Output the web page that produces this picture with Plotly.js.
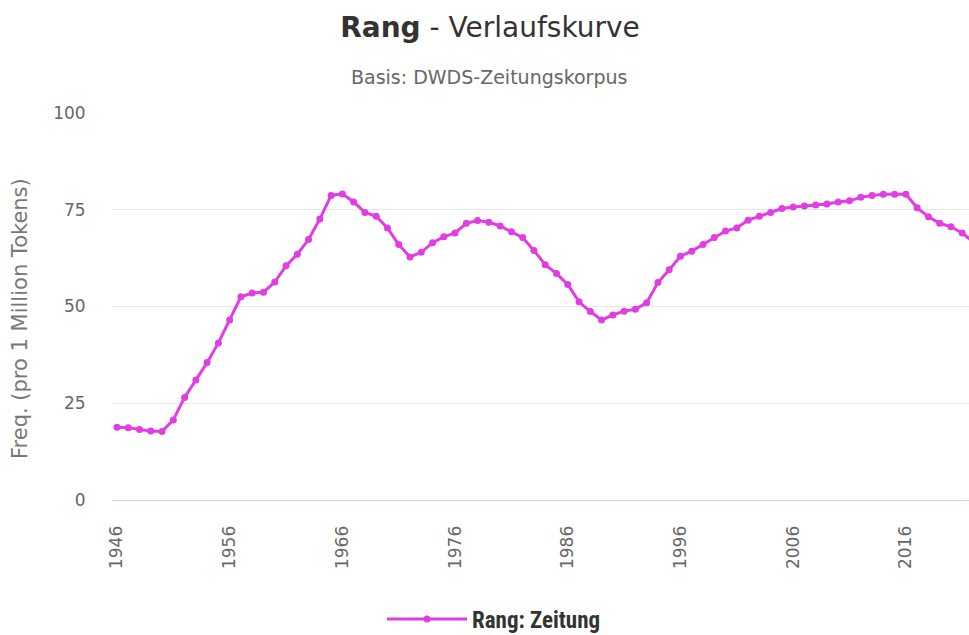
<!DOCTYPE html>
<html>
<head>
<meta charset="utf-8">
<script src="https://cdn.plot.ly/plotly-3.0.1.min.js"></script>
<style>html,body{margin:0;padding:0;background:#fff;}#chart{width:969px;height:635px;}</style>
</head>
<body>
<div id="chart"></div>
<script>
const years = [];
for (let y = 1946; y <= 2022; y++) years.push(y);

const freqZeitung = [
  18.8, 18.7, 18.2, 17.8, 17.7, 20.7, 26.5, 31.0, 35.5, 40.6,
  46.5, 52.5, 53.5, 53.7, 56.3, 60.5, 63.5, 67.3, 72.6, 78.7,
  79.1, 77.0, 74.3, 73.3, 70.3, 66.0, 62.8, 64.0, 66.5, 68.0,
  69.0, 71.5, 72.2, 71.8, 70.8, 69.3, 67.8, 64.5, 60.8, 58.5,
  55.7, 51.2, 48.7, 46.5, 47.8, 48.8, 49.3, 51.0, 56.2, 59.5,
  63.0, 64.3, 66.0, 67.8, 69.5, 70.3, 72.3, 73.3, 74.3, 75.3,
  75.7, 76.0, 76.2, 76.5, 77.0, 77.3, 78.2, 78.7, 79.0, 79.0,
  79.0, 75.5, 73.2, 71.5, 70.6, 69.0, 66.6
];

const xTicks = [1946, 1956, 1966, 1976, 1986, 1996, 2006, 2016];
const yTicks = [0, 25, 50, 75, 100];
const seriesName = 'Rang: Zeitung';
const titleText = '<b>Rang</b> - Verlaufskurve';
const subtitleText = 'Basis: DWDS-Zeitungskorpus';
const yTitleText = 'Freq. (pro 1 Million Tokens)';

const trace = {
  x: years,
  y: freqZeitung,
  type: 'scatter',
  mode: 'lines+markers',
  name: seriesName,
  line: {color: '#e23de2', width: 3},
  marker: {color: '#e23de2', size: 7}
};

const layout = {
  width: 969,
  height: 635,
  margin: {l: 112, r: 0, t: 113, b: 135, autoexpand: false},
  paper_bgcolor: '#fff',
  plot_bgcolor: '#fff',
  font: {family: 'DejaVu Sans, sans-serif', color: '#666'},
  showlegend: true,
  title: {
    text: titleText,
    font: {family: 'DejaVu Sans, sans-serif', size: 28, color: '#333'},
    x: 490 / 969, xref: 'container', xanchor: 'center',
    y: 1 - 27 / 635, yref: 'container', yanchor: 'middle'
  },
  annotations: [
    {
      text: subtitleText, showarrow: false,
      xref: 'paper', yref: 'paper',
      x: (489 - 112) / 857, y: (500 - 77) / 387,
      xanchor: 'center', yanchor: 'middle',
      font: {family: 'DejaVu Sans, sans-serif', size: 19, color: '#666'}
    },
    {
      text: yTitleText, showarrow: false, textangle: -90,
      xref: 'paper', yref: 'paper',
      x: (20 - 112) / 857, y: (500 - 319) / 387,
      xanchor: 'center', yanchor: 'middle',
      font: {family: 'DejaVu Sans, sans-serif', size: 21, color: '#777'}
    }
  ],
  xaxis: {
    range: [1945.56, 2021.6],
    tickmode: 'array',
    tickvals: xTicks,
    ticktext: xTicks.map(String),
    tickangle: -90,
    ticks: 'outside', ticklen: 18, tickcolor: 'rgba(0,0,0,0)',
    tickfont: {family: 'DejaVu Sans, sans-serif', size: 17, color: '#666'},
    showgrid: false,
    zeroline: false,
    showline: true, linecolor: '#ccd6eb', linewidth: 1,
    fixedrange: true
  },
  yaxis: {
    range: [0, 100],
    tickmode: 'array',
    tickvals: yTicks,
    ticktext: yTicks.map(String),
    ticks: 'outside', ticklen: 22, tickcolor: 'rgba(0,0,0,0)',
    tickfont: {family: 'DejaVu Sans, sans-serif', size: 17, color: '#666'},
    showgrid: true, gridcolor: '#e6e6e6', gridwidth: 1,
    zeroline: false,
    showline: false,
    fixedrange: true
  },
  legend: {
    orientation: 'h',
    xref: 'container', yref: 'container',
    x: 494 / 969, y: 1 - 619 / 635,
    xanchor: 'center', yanchor: 'middle',
    itemwidth: 80,
    font: {family: 'Liberation Sans Narrow, Roboto Condensed, sans-serif', size: 23, color: '#333', weight: 'bold'}
  }
};

Plotly.newPlot('chart', [trace], layout, {displayModeBar: false, staticPlot: true});
</script>
</body>
</html>
